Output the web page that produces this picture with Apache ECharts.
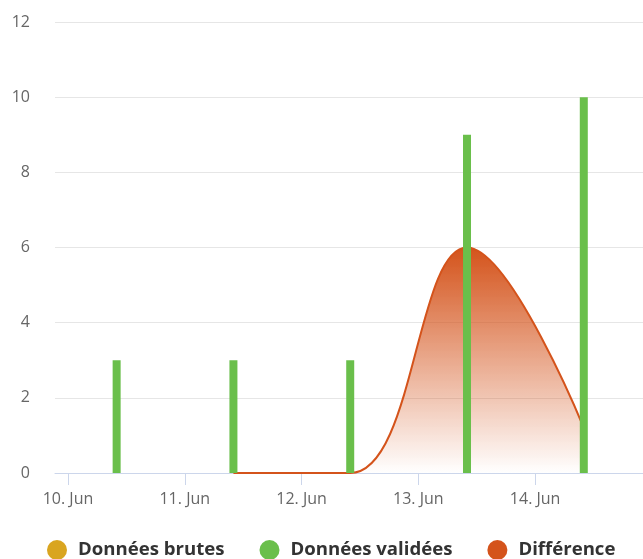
<!DOCTYPE html>
<html>
<head>
<meta charset="utf-8">
<script src="https://cdn.jsdelivr.net/npm/echarts@6/dist/echarts.min.js"></script>
<style>
  html, body { margin: 0; padding: 0; background: #fff; }
  #main { width: 643px; height: 559px; }
</style>
</head>
<body>
<div id="main"></div>
<script>
// points de mesure (un par jour, à 10h)
const dates = ["2024-06-10 10:00", "2024-06-11 10:00", "2024-06-12 10:00", "2024-06-13 10:00", "2024-06-14 10:00"];
const rawValues = [];
const validatedValues = [3, 3, 3, 9, 10];
const diffValues = [null, 0, 0, 6, 1.2];
const yTicks = [0, 2, 4, 6, 8, 10, 12];

const pair = (vals) => dates.map((d, i) => [d, vals[i] === undefined ? null : vals[i]]);

// barres fines dessinées via les axes (évite l'élargissement auto de l'axe temps)
const barRenderer = (color) => (params, api) => {
	const base = api.coord([api.value(0), 0]);
	const top = api.coord([api.value(0), api.value(1)]);
	return {
		type: "rect",
		shape: { x: top[0] - 4, y: top[1], width: 8, height: base[1] - top[1] },
		style: { fill: color }
	};
};

const chart = echarts.init(document.getElementById("main"));

chart.setOption({
	animation: false,
	grid: { left: 55, right: 0, top: 22, bottom: 86 },
	legend: {
		top: 540,
		left: 47,
		padding: 0,
		icon: "circle",
		itemWidth: 20,
		itemHeight: 20,
		itemGap: 35,
		textStyle: {
			fontFamily: "Open Sans",
			fontWeight: "bold",
			fontSize: 18.6,
			color: "#333",
			padding: [0, 0, 0, 6]
		},
		data: ["Données brutes", "Données validées", "Différence"]
	},
	xAxis: {
		type: "time",
		min: "2024-06-09 21:20",
		max: "2024-06-14 22:10",
		minInterval: 86400000,
		maxInterval: 86400000,
		axisLine: { lineStyle: { color: "#ccd6eb" } },
		axisTick: { show: true, length: 12, lineStyle: { color: "#ccd6eb" } },
		splitLine: { show: false },
		axisLabel: {
			color: "#666",
			fontFamily: "Open Sans",
			fontSize: 16,
			margin: 18,
			formatter: (v) => new Date(v).getDate() + ". Jun"
		}
	},
	yAxis: {
		type: "value",
		min: yTicks[0],
		max: yTicks[yTicks.length - 1],
		interval: 2,
		axisLine: { show: false },
		axisTick: { show: false },
		splitLine: { lineStyle: { color: "#e6e6e6" } },
		axisLabel: { color: "#666", fontFamily: "Open Sans", fontSize: 16, margin: 25 }
	},
	series: [
		{
			name: "Données brutes",
			type: "custom",
			itemStyle: { color: "#d9a520" },
			renderItem: barRenderer("#d9a520"),
			data: pair(rawValues).filter((p) => p[1] !== null)
		},
		{
			name: "Différence",
			type: "line",
			smooth: 0.4,
			symbol: "none",
			z: 2,
			itemStyle: { color: "#d4531b" },
			lineStyle: { color: "#d4531b", width: 2 },
			areaStyle: {
				opacity: 1,
				color: new echarts.graphic.LinearGradient(0, 0, 0, 1, [
					{ offset: 0, color: "rgba(212,83,27,1)" },
					{ offset: 1, color: "rgba(212,83,27,0)" }
				])
			},
			data: pair(diffValues)
		},
		{
			name: "Données validées",
			type: "custom",
			z: 3,
			itemStyle: { color: "#6abf4b" },
			renderItem: barRenderer("#6abf4b"),
			data: pair(validatedValues)
		}
	]
});
</script>
</body>
</html>
